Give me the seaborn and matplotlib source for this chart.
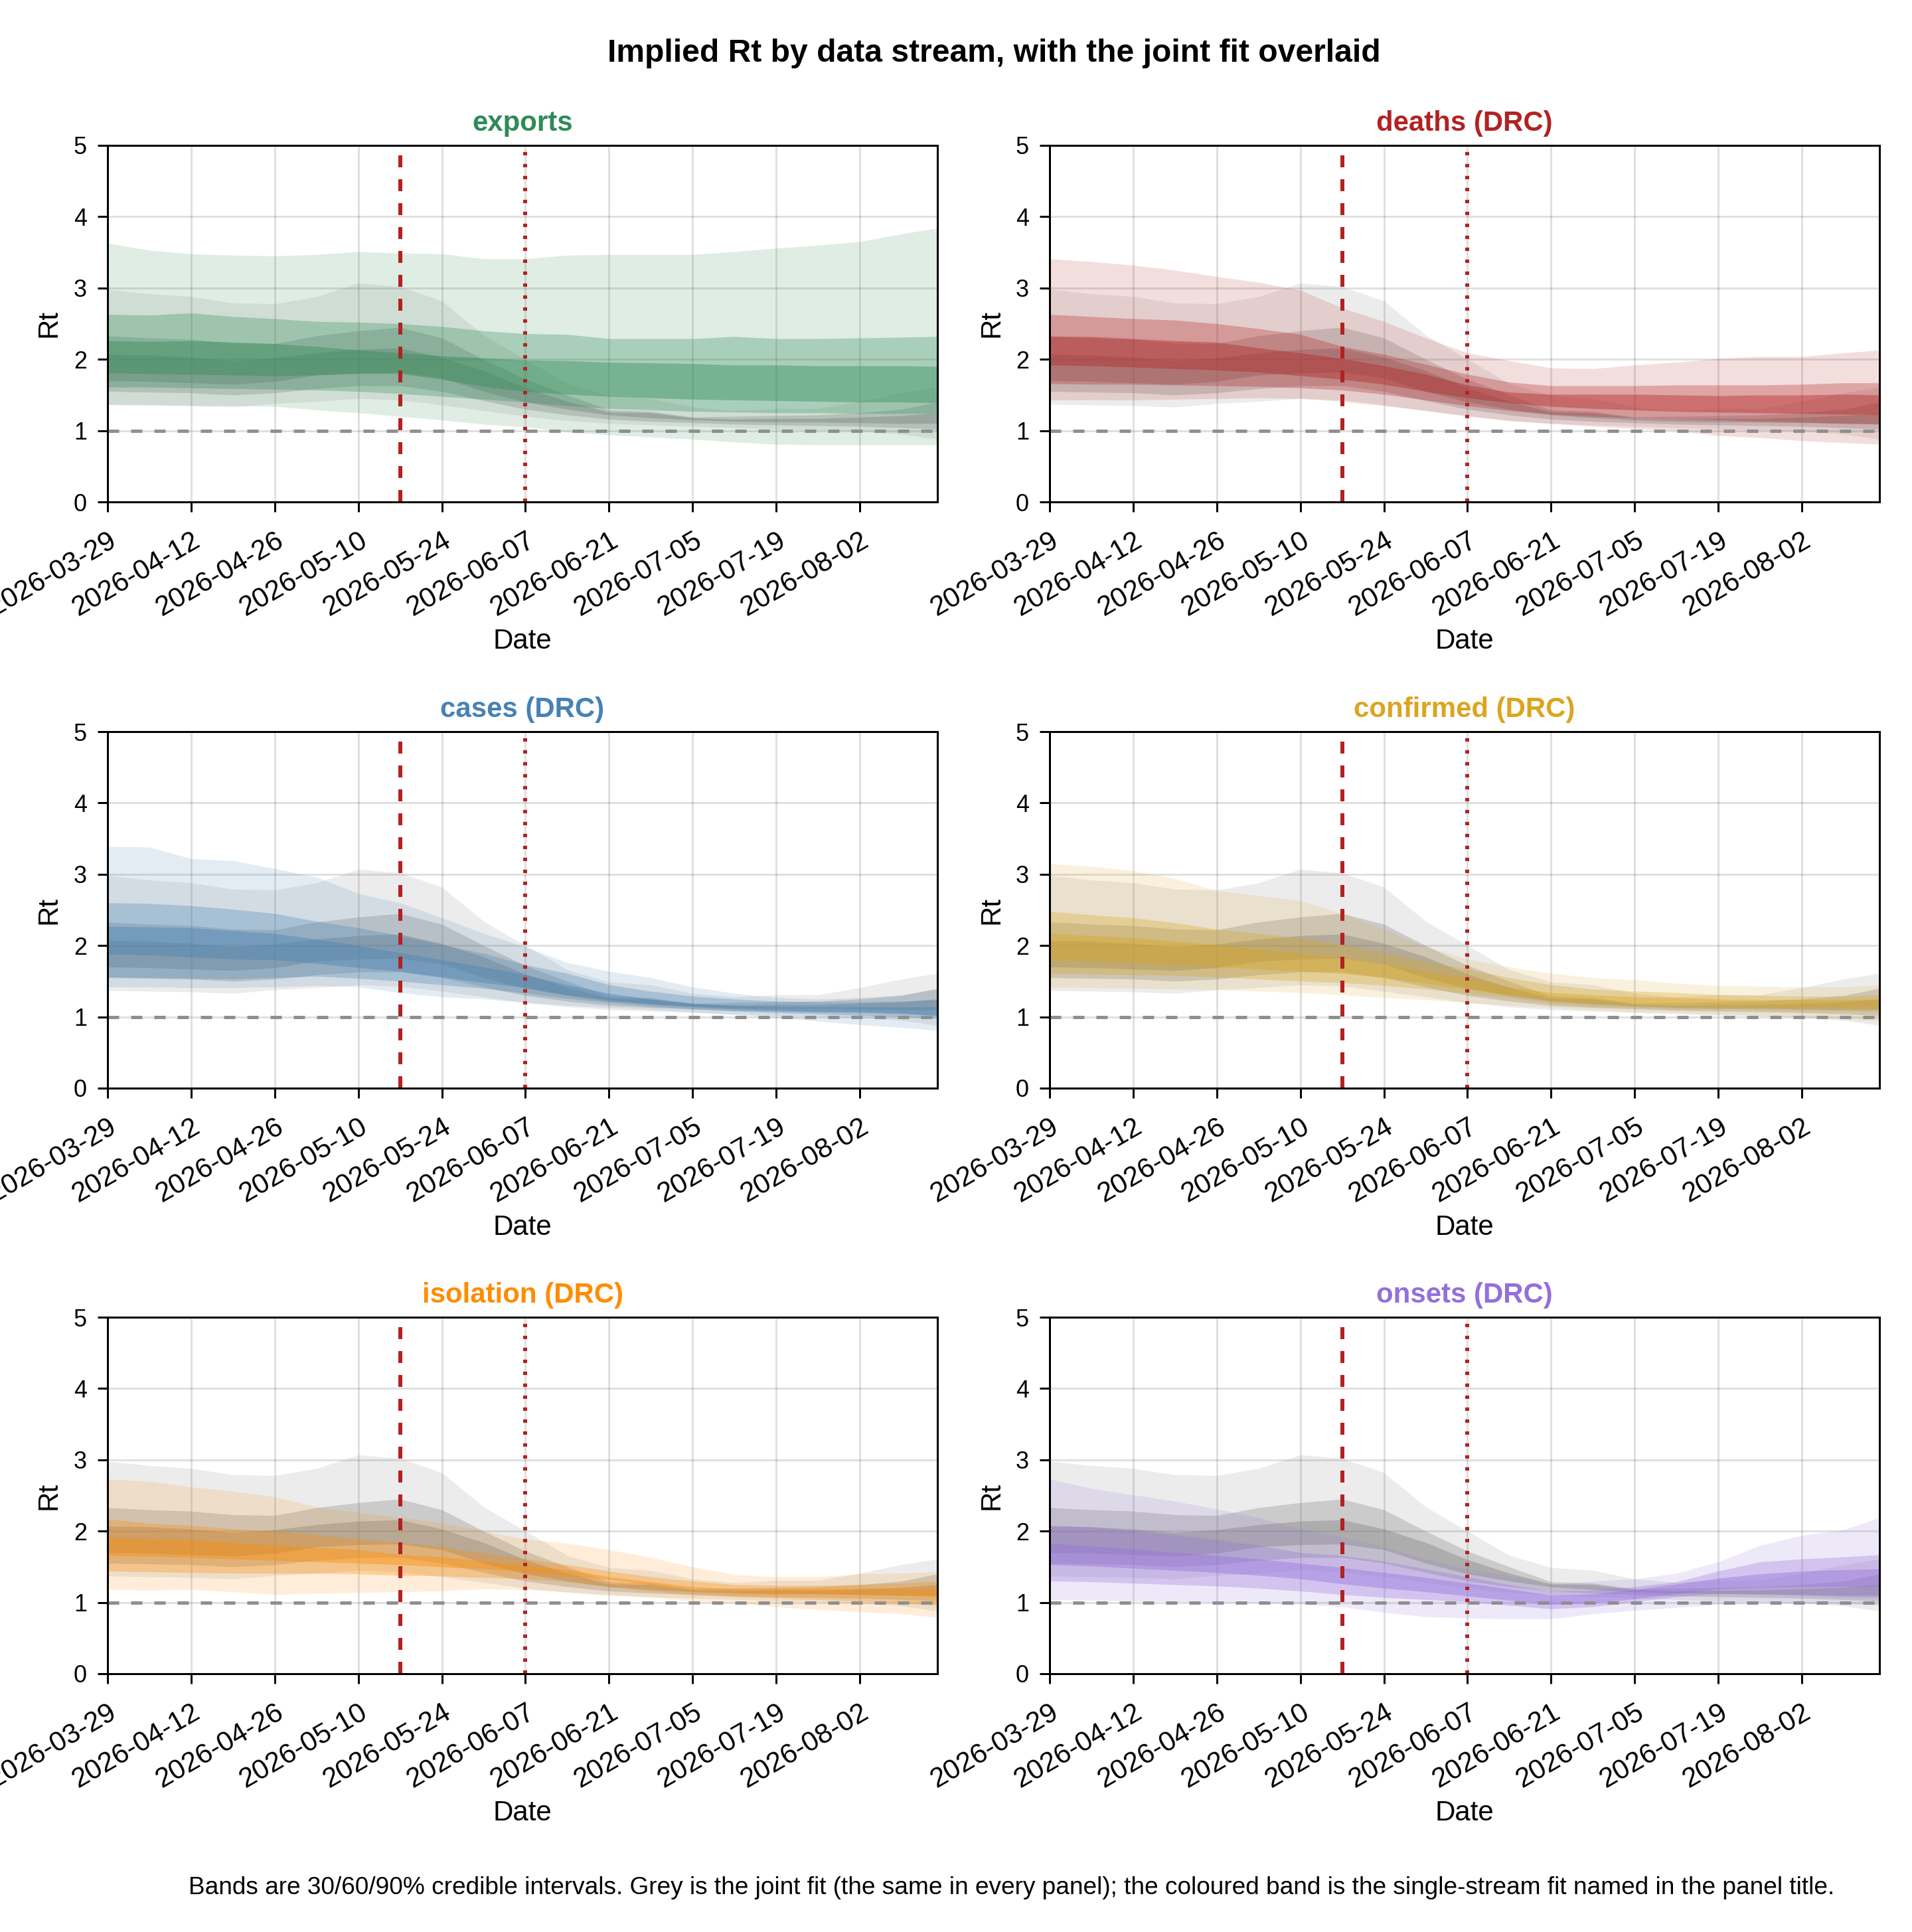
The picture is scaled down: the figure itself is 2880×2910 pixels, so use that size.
import numpy as np
import pandas as pd
import matplotlib
matplotlib.use("Agg")
import matplotlib.pyplot as plt
import matplotlib.transforms as mtransforms
import seaborn as sns

# weekly points (last one = end of the series)
dates = ["2026-03-29", "2026-04-05", "2026-04-12", "2026-04-19", "2026-04-26",
         "2026-05-03", "2026-05-10", "2026-05-17", "2026-05-24", "2026-05-31",
         "2026-06-07", "2026-06-14", "2026-06-21", "2026-06-28", "2026-07-05",
         "2026-07-12", "2026-07-19", "2026-07-26", "2026-08-02", "2026-08-09",
         "2026-08-15"]
tick_dates = ["2026-03-29", "2026-04-12", "2026-04-26", "2026-05-10", "2026-05-24",
              "2026-06-07", "2026-06-21", "2026-07-05", "2026-07-19", "2026-08-02"]
x_start, x_end = "2026-03-29", "2026-08-15"
line_dashed = "2026-05-17"
line_dotted = "2026-06-07"

# joint fit (grey, same in every panel)
joint_hi90 = [2.98, 2.92, 2.88, 2.79, 2.78, 2.88, 3.07, 3.02, 2.82, 2.34, 2.00, 1.66, 1.49, 1.45, 1.33, 1.28, 1.31, 1.31, 1.41, 1.53, 1.61]
joint_hi60 = [2.33, 2.30, 2.28, 2.23, 2.22, 2.33, 2.40, 2.45, 2.30, 2.00, 1.72, 1.50, 1.29, 1.27, 1.19, 1.20, 1.21, 1.22, 1.25, 1.30, 1.40]
joint_hi30 = [2.07, 2.06, 2.03, 1.98, 2.02, 2.09, 2.14, 2.16, 2.03, 1.84, 1.60, 1.41, 1.26, 1.25, 1.18, 1.16, 1.17, 1.17, 1.19, 1.21, 1.25]
joint_lo30 = [1.70, 1.69, 1.67, 1.65, 1.69, 1.78, 1.81, 1.82, 1.74, 1.55, 1.40, 1.30, 1.22, 1.18, 1.15, 1.13, 1.12, 1.12, 1.11, 1.10, 1.10]
joint_lo60 = [1.55, 1.54, 1.53, 1.50, 1.53, 1.59, 1.63, 1.63, 1.55, 1.42, 1.30, 1.22, 1.16, 1.13, 1.11, 1.09, 1.08, 1.07, 1.06, 1.04, 1.02]
joint_lo90 = [1.37, 1.36, 1.35, 1.33, 1.38, 1.41, 1.45, 1.43, 1.36, 1.28, 1.20, 1.14, 1.10, 1.08, 1.06, 1.04, 1.02, 1.01, 0.99, 0.95, 0.88]

# single-stream fits
exp_hi90 = [3.63, 3.53, 3.48, 3.46, 3.45, 3.47, 3.51, 3.49, 3.48, 3.41, 3.41, 3.46, 3.47, 3.47, 3.47, 3.51, 3.56, 3.60, 3.65, 3.76, 3.84]
exp_hi60 = [2.63, 2.62, 2.65, 2.60, 2.57, 2.53, 2.52, 2.50, 2.46, 2.40, 2.36, 2.35, 2.29, 2.29, 2.29, 2.32, 2.29, 2.29, 2.30, 2.31, 2.32]
exp_hi30 = [2.26, 2.25, 2.26, 2.24, 2.22, 2.18, 2.13, 2.09, 2.05, 2.02, 1.99, 1.98, 1.96, 1.95, 1.94, 1.92, 1.92, 1.91, 1.91, 1.91, 1.90]
exp_lo30 = [1.81, 1.80, 1.79, 1.78, 1.77, 1.78, 1.80, 1.80, 1.72, 1.62, 1.55, 1.51, 1.48, 1.46, 1.44, 1.43, 1.42, 1.41, 1.40, 1.40, 1.39]
exp_lo60 = [1.61, 1.61, 1.60, 1.59, 1.58, 1.57, 1.55, 1.52, 1.48, 1.44, 1.40, 1.35, 1.31, 1.29, 1.27, 1.26, 1.25, 1.25, 1.24, 1.24, 1.24]
exp_lo90 = [1.36, 1.36, 1.35, 1.35, 1.34, 1.29, 1.25, 1.20, 1.15, 1.09, 1.05, 0.98, 0.94, 0.91, 0.88, 0.84, 0.81, 0.80, 0.80, 0.80, 0.80]

dea_hi90 = [3.41, 3.37, 3.32, 3.25, 3.16, 3.08, 2.97, 2.72, 2.53, 2.30, 2.09, 1.98, 1.88, 1.87, 1.92, 1.96, 2.01, 2.04, 2.04, 2.09, 2.13]
dea_hi60 = [2.63, 2.60, 2.57, 2.55, 2.50, 2.43, 2.35, 2.18, 2.07, 1.93, 1.79, 1.68, 1.63, 1.63, 1.63, 1.64, 1.64, 1.64, 1.65, 1.67, 1.67]
dea_hi30 = [2.32, 2.32, 2.29, 2.26, 2.24, 2.16, 2.09, 2.01, 1.91, 1.79, 1.64, 1.54, 1.51, 1.51, 1.51, 1.50, 1.49, 1.50, 1.50, 1.51, 1.50]
dea_lo30 = [1.92, 1.91, 1.89, 1.87, 1.85, 1.82, 1.77, 1.72, 1.65, 1.55, 1.46, 1.39, 1.34, 1.31, 1.29, 1.27, 1.26, 1.25, 1.24, 1.23, 1.23]
dea_lo60 = [1.66, 1.65, 1.65, 1.64, 1.63, 1.62, 1.60, 1.57, 1.51, 1.43, 1.35, 1.28, 1.23, 1.20, 1.18, 1.16, 1.15, 1.13, 1.12, 1.10, 1.09]
dea_lo90 = [1.43, 1.43, 1.43, 1.44, 1.45, 1.46, 1.45, 1.41, 1.35, 1.28, 1.21, 1.14, 1.10, 1.06, 1.03, 1.00, 0.93, 0.90, 0.86, 0.83, 0.81]

cas_hi90 = [3.39, 3.38, 3.22, 3.19, 3.08, 2.96, 2.73, 2.60, 2.39, 2.17, 1.98, 1.76, 1.64, 1.55, 1.42, 1.33, 1.27, 1.25, 1.27, 1.31, 1.39]
cas_hi60 = [2.60, 2.59, 2.56, 2.51, 2.45, 2.34, 2.25, 2.14, 2.01, 1.89, 1.73, 1.61, 1.45, 1.36, 1.29, 1.25, 1.22, 1.21, 1.21, 1.22, 1.24]
cas_hi30 = [2.27, 2.26, 2.25, 2.21, 2.17, 2.09, 2.00, 1.90, 1.80, 1.70, 1.59, 1.45, 1.33, 1.25, 1.19, 1.16, 1.14, 1.14, 1.14, 1.14, 1.14]
cas_lo30 = [1.88, 1.87, 1.84, 1.81, 1.80, 1.75, 1.69, 1.64, 1.56, 1.48, 1.41, 1.31, 1.24, 1.18, 1.14, 1.11, 1.09, 1.07, 1.07, 1.05, 1.02]
cas_lo60 = [1.56, 1.55, 1.54, 1.53, 1.55, 1.57, 1.54, 1.50, 1.45, 1.40, 1.33, 1.26, 1.20, 1.15, 1.11, 1.08, 1.06, 1.04, 1.02, 1.00, 0.98]
cas_lo90 = [1.42, 1.42, 1.41, 1.41, 1.42, 1.44, 1.42, 1.34, 1.28, 1.25, 1.20, 1.16, 1.13, 1.10, 1.07, 1.03, 0.99, 0.94, 0.89, 0.85, 0.81]

con_hi90 = [3.15, 3.11, 3.05, 2.94, 2.77, 2.70, 2.63, 2.45, 2.23, 1.98, 1.81, 1.70, 1.61, 1.55, 1.52, 1.47, 1.44, 1.43, 1.42, 1.42, 1.45]
con_hi60 = [2.48, 2.43, 2.39, 2.32, 2.23, 2.17, 2.11, 2.01, 1.90, 1.78, 1.67, 1.55, 1.45, 1.39, 1.36, 1.34, 1.31, 1.30, 1.29, 1.29, 1.31]
con_hi30 = [2.17, 2.14, 2.11, 2.06, 2.01, 1.95, 1.89, 1.83, 1.75, 1.64, 1.55, 1.42, 1.34, 1.31, 1.28, 1.27, 1.25, 1.24, 1.24, 1.24, 1.25]
con_lo30 = [1.80, 1.78, 1.76, 1.73, 1.70, 1.67, 1.64, 1.61, 1.55, 1.47, 1.39, 1.31, 1.24, 1.20, 1.18, 1.16, 1.15, 1.14, 1.14, 1.14, 1.14]
con_lo60 = [1.61, 1.60, 1.59, 1.58, 1.56, 1.53, 1.50, 1.48, 1.44, 1.39, 1.33, 1.27, 1.19, 1.15, 1.13, 1.11, 1.11, 1.10, 1.09, 1.08, 1.07]
con_lo90 = [1.42, 1.41, 1.40, 1.39, 1.38, 1.36, 1.34, 1.31, 1.27, 1.24, 1.20, 1.16, 1.13, 1.10, 1.07, 1.06, 1.04, 1.02, 1.00, 0.97, 0.94]

iso_hi90 = [2.73, 2.70, 2.62, 2.56, 2.48, 2.34, 2.26, 2.19, 2.12, 2.00, 1.89, 1.83, 1.74, 1.63, 1.50, 1.39, 1.36, 1.36, 1.40, 1.41, 1.43]
iso_hi60 = [2.17, 2.11, 2.08, 2.03, 2.00, 1.95, 1.89, 1.84, 1.78, 1.69, 1.61, 1.53, 1.44, 1.36, 1.30, 1.25, 1.24, 1.24, 1.25, 1.27, 1.30]
iso_hi30 = [1.91, 1.89, 1.88, 1.84, 1.80, 1.77, 1.74, 1.67, 1.64, 1.58, 1.52, 1.46, 1.36, 1.29, 1.22, 1.19, 1.19, 1.19, 1.19, 1.19, 1.19]
iso_lo30 = [1.66, 1.65, 1.63, 1.61, 1.59, 1.57, 1.55, 1.53, 1.50, 1.47, 1.43, 1.38, 1.32, 1.25, 1.19, 1.15, 1.13, 1.12, 1.11, 1.10, 1.08]
iso_lo60 = [1.44, 1.43, 1.42, 1.41, 1.41, 1.41, 1.40, 1.38, 1.37, 1.35, 1.33, 1.29, 1.22, 1.16, 1.11, 1.08, 1.06, 1.04, 1.02, 0.99, 0.96]
iso_lo90 = [1.18, 1.17, 1.18, 1.15, 1.11, 1.13, 1.14, 1.15, 1.16, 1.19, 1.18, 1.15, 1.11, 1.07, 1.02, 0.99, 0.94, 0.90, 0.87, 0.84, 0.79]

ons_hi90 = [2.73, 2.60, 2.51, 2.42, 2.31, 2.19, 2.03, 1.92, 1.78, 1.61, 1.47, 1.38, 1.25, 1.30, 1.33, 1.41, 1.57, 1.80, 1.94, 2.02, 2.19]
ons_hi60 = [2.08, 2.06, 2.00, 1.95, 1.88, 1.80, 1.70, 1.66, 1.58, 1.47, 1.36, 1.25, 1.16, 1.17, 1.22, 1.29, 1.44, 1.57, 1.61, 1.64, 1.67]
ons_hi30 = [1.83, 1.79, 1.75, 1.70, 1.66, 1.61, 1.55, 1.49, 1.42, 1.35, 1.27, 1.19, 1.10, 1.12, 1.18, 1.26, 1.34, 1.40, 1.44, 1.46, 1.47]
ons_lo30 = [1.53, 1.51, 1.48, 1.45, 1.42, 1.38, 1.33, 1.26, 1.20, 1.15, 1.09, 1.03, 0.97, 0.99, 1.05, 1.12, 1.19, 1.21, 1.22, 1.22, 1.22]
ons_lo60 = [1.30, 1.29, 1.27, 1.25, 1.23, 1.20, 1.16, 1.11, 1.07, 1.04, 1.01, 0.96, 0.91, 0.94, 1.01, 1.08, 1.13, 1.11, 1.10, 1.08, 1.07]
ons_lo90 = [1.04, 1.03, 1.02, 1.01, 1.00, 0.99, 0.98, 0.94, 0.86, 0.80, 0.78, 0.77, 0.77, 0.84, 0.89, 0.93, 0.97, 0.99, 0.99, 0.98, 0.96]

stream_names = ["exports", "deaths (DRC)", "cases (DRC)", "confirmed (DRC)", "isolation (DRC)", "onsets (DRC)"]
stream_colors = ["seagreen", "firebrick", "steelblue", "goldenrod", "darkorange", "mediumpurple"]
stream_bands = [
    [(exp_lo90, exp_hi90), (exp_lo60, exp_hi60), (exp_lo30, exp_hi30)],
    [(dea_lo90, dea_hi90), (dea_lo60, dea_hi60), (dea_lo30, dea_hi30)],
    [(cas_lo90, cas_hi90), (cas_lo60, cas_hi60), (cas_lo30, cas_hi30)],
    [(con_lo90, con_hi90), (con_lo60, con_hi60), (con_lo30, con_hi30)],
    [(iso_lo90, iso_hi90), (iso_lo60, iso_hi60), (iso_lo30, iso_hi30)],
    [(ons_lo90, ons_hi90), (ons_lo60, ons_hi60), (ons_lo30, ons_hi30)],
]
joint_bands = [(joint_lo90, joint_hi90), (joint_lo60, joint_hi60), (joint_lo30, joint_hi30)]
band_alphas = [0.15, 0.3, 0.4]

title = "Implied Rt by data stream, with the joint fit overlaid"
caption = ("Bands are 30/60/90% credible intervals. Grey is the joint fit (the same in every panel); "
           "the coloured band is the single-stream fit named in the panel title.")

sns.set_theme(style="ticks")
plt.rcParams["font.family"] = ["Liberation Sans", "DejaVu Sans"]
plt.rcParams["text.color"] = "black"
plt.rcParams["axes.labelcolor"] = "black"
plt.rcParams["xtick.color"] = "black"
plt.rcParams["ytick.color"] = "black"

W, H, DPI = 2880, 2910, 240
PT = 72 / DPI  # points per pixel

fig = plt.figure(figsize=(W / DPI, H / DPI), dpi=DPI)

col_left = [162, 1581]
row_top = [219, 1102, 1984]
ax_w, ax_h = 1250, 537

x = pd.to_datetime(dates)
ticks = pd.to_datetime(tick_dates)

for i, (name, color, bands) in enumerate(zip(stream_names, stream_colors, stream_bands)):
    r, c = divmod(i, 2)
    ax = fig.add_axes([col_left[c] / W, 1 - (row_top[r] + ax_h) / H, ax_w / W, ax_h / H])
    ax.set_axisbelow(True)
    ax.grid(True, color="black", alpha=0.12, linewidth=3 * PT)

    # joint fit first, single-stream fit on top
    for (lo, hi), a in zip(joint_bands, band_alphas):
        ax.fill_between(x, lo, hi, color="gray", alpha=a, linewidth=0)
    for (lo, hi), a in zip(bands, band_alphas):
        ax.fill_between(x, lo, hi, color=color, alpha=a, linewidth=0)

    ax.axhline(1, color="#8f8f8f", linewidth=5 * PT, linestyle=(0, (3.4, 3.6)))
    ax.axvline(pd.Timestamp(line_dashed), color="firebrick", linewidth=6 * PT, linestyle=(0, (3, 3)))
    ax.axvline(pd.Timestamp(line_dotted), color="firebrick", linewidth=6 * PT, linestyle=(0, (0.85, 2.15)))

    ax.set_xlim(pd.Timestamp(x_start), pd.Timestamp(x_end))
    ax.set_ylim(0, 5)
    ax.set_yticks([0, 1, 2, 3, 4, 5])
    ax.set_xticks(ticks)
    ax.set_xticklabels(tick_dates)

    for sp in ax.spines.values():
        sp.set_visible(True)
        sp.set_color("black")
        sp.set_linewidth(3 * PT)
    ax.tick_params(axis="both", direction="out", length=15 * PT, width=3 * PT, colors="black")
    ax.tick_params(axis="y", pad=16 * PT, labelsize=36 * PT)
    ax.tick_params(axis="x", pad=40 * PT, labelsize=42 * PT)
    shift = mtransforms.ScaledTranslation(11 / DPI, 0, fig.dpi_scale_trans)
    for lab in ax.get_xticklabels():
        lab.set_rotation(30)
        lab.set_ha("right")
        lab.set_va("center")
        lab.set_rotation_mode("anchor")
        lab.set_transform(lab.get_transform() + shift)

    ax.set_xlabel("Date", fontsize=42 * PT, va="baseline")
    ax.xaxis.set_label_coords(0.5, -221 / ax_h)
    ax.set_ylabel("Rt", fontsize=42 * PT)
    ax.yaxis.set_label_coords(-(162 - 94) / ax_w, 0.5)
    ax.set_title(name, color=color, fontsize=42 * PT, fontweight="bold", pad=22 * PT)

fig.text(1497 / W, 1 - 93 / H, title, ha="center", va="baseline",
         fontsize=48 * PT, fontweight="bold")
fig.text(1524 / W, 1 - 2853 / H, caption, ha="center", va="baseline", fontsize=37 * PT)

fig.savefig("out.png", dpi=DPI)
